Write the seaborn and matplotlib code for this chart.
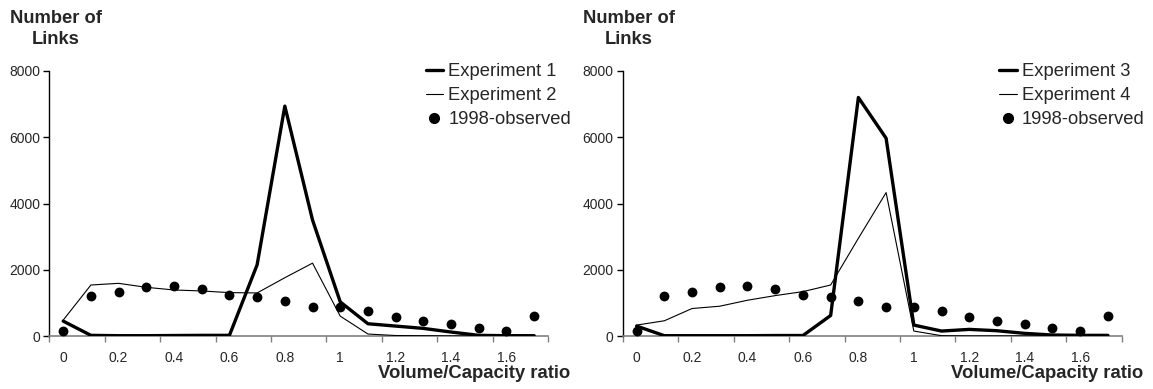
import numpy as np
import pandas as pd
import matplotlib
matplotlib.use("Agg")
import matplotlib.pyplot as plt
from matplotlib.lines import Line2D
import seaborn as sns

# ---- data ----
vc_ratio = [0.0, 0.1, 0.2, 0.3, 0.4, 0.5, 0.6, 0.7, 0.8, 0.9,
            1.0, 1.1, 1.2, 1.3, 1.4, 1.5, 1.6, 1.7]
observed_1998 = [150, 1200, 1330, 1490, 1510, 1430, 1240, 1170, 1060, 885,
                 885, 765, 565, 455, 350, 250, 150, 610]
experiment_1 = [450, 20, 10, 10, 15, 20, 20, 2150, 6940, 3500,
                1030, 370, 300, 230, 120, 20, 10, 10]
experiment_2 = [480, 1540, 1590, 1470, 1390, 1360, 1310, 1300, 1760, 2200,
                600, 60, 15, 10, 5, 5, 5, 5]
experiment_3 = [300, 10, 10, 10, 10, 15, 15, 620, 7200, 5970,
                330, 150, 200, 160, 80, 30, 20, 20]
experiment_4 = [330, 460, 830, 900, 1080, 1220, 1340, 1540, 2950, 4330,
                150, 10, 5, 5, 5, 5, 5, 5]
x_tick_labels = ["0", "0.2", "0.4", "0.6", "0.8", "1", "1.2", "1.4", "1.6"]
y_ticks = [0, 2000, 4000, 6000, 8000]

sns.set_style("white")
plt.rcParams['font.family'] = ['Liberation Sans', 'DejaVu Sans']

fig = plt.figure(figsize=(11.53, 3.89), dpi=100)
ax_l = fig.add_axes([0.0428, 0.1362, 0.4325, 0.6813])
ax_r = fig.add_axes([0.5401, 0.1362, 0.4328, 0.6813])

panels = [
    (ax_l, experiment_1, experiment_2, "Experiment 1", "Experiment 2", 0.0485),
    (ax_r, experiment_3, experiment_4, "Experiment 3", "Experiment 4", 0.5455),
]

for ax, thick, thin, lab_thick, lab_thin, title_x in panels:
    sns.lineplot(x=vc_ratio, y=thick, ax=ax, color="black", linewidth=2.4,
                 zorder=3, legend=False)
    sns.lineplot(x=vc_ratio, y=thin, ax=ax, color="black", linewidth=0.8,
                 zorder=3, legend=False)
    sns.scatterplot(x=vc_ratio, y=observed_1998, ax=ax, color="black",
                    s=50, edgecolor="black", linewidth=0, zorder=4, legend=False)

    ax.set_xlim(-0.05, 1.75)
    ax.set_ylim(0, 8000)
    ax.set_yticks(y_ticks)
    ax.set_yticklabels([str(v) for v in y_ticks], fontsize=10)
    label_pos = [0.0, 0.2, 0.4, 0.6, 0.8, 1.0, 1.2, 1.4, 1.6]
    ax.set_xticks(label_pos)
    ax.set_xticklabels(x_tick_labels, fontsize=10)
    ax.set_xticks([-0.05 + 0.2 * k for k in range(10)], minor=True)
    ax.tick_params(axis="x", which="major", length=0, pad=10.5)
    ax.tick_params(axis="x", which="minor", length=4, width=1, color="#808080",
                   direction="out", bottom=True)
    ax.tick_params(axis="y", which="major", length=4.5, width=1, color="black",
                   direction="out", left=True, pad=2)

    for s in ["top", "right"]:
        ax.spines[s].set_visible(False)
    ax.spines["left"].set_color("black")
    ax.spines["left"].set_linewidth(1.0)
    ax.spines["bottom"].set_color("#808080")
    ax.spines["bottom"].set_linewidth(1.2)
    ax.set_facecolor("white")
    ax.grid(False)
    ax.set_xlabel("")
    ax.set_ylabel("")

    handles = [
        Line2D([0], [0], color="black", linewidth=2.4),
        Line2D([0], [0], color="black", linewidth=0.8),
        Line2D([0], [0], color="black", marker="o", linestyle="none",
               markersize=7),
    ]
    ax.legend(handles, [lab_thick, lab_thin, "1998-observed"],
              loc="upper right", bbox_to_anchor=(1.046, 1.03),
              frameon=False, fontsize=13.2, handlelength=0.95,
              handletextpad=0.28, labelspacing=0.38, borderaxespad=0.0,
              borderpad=0.0)

    ax.text(1.044, -0.143, "Volume/Capacity ratio", transform=ax.transAxes,
            ha="right", va="center", fontsize=13.3, fontweight="bold")

    fig.text(title_x, 0.953, "Number of", ha="center", va="center",
             fontsize=13.2, fontweight="bold")
    fig.text(title_x, 0.898, "Links", ha="center", va="center",
             fontsize=13.2, fontweight="bold")

fig.savefig("out.png", dpi=100, facecolor="white")
